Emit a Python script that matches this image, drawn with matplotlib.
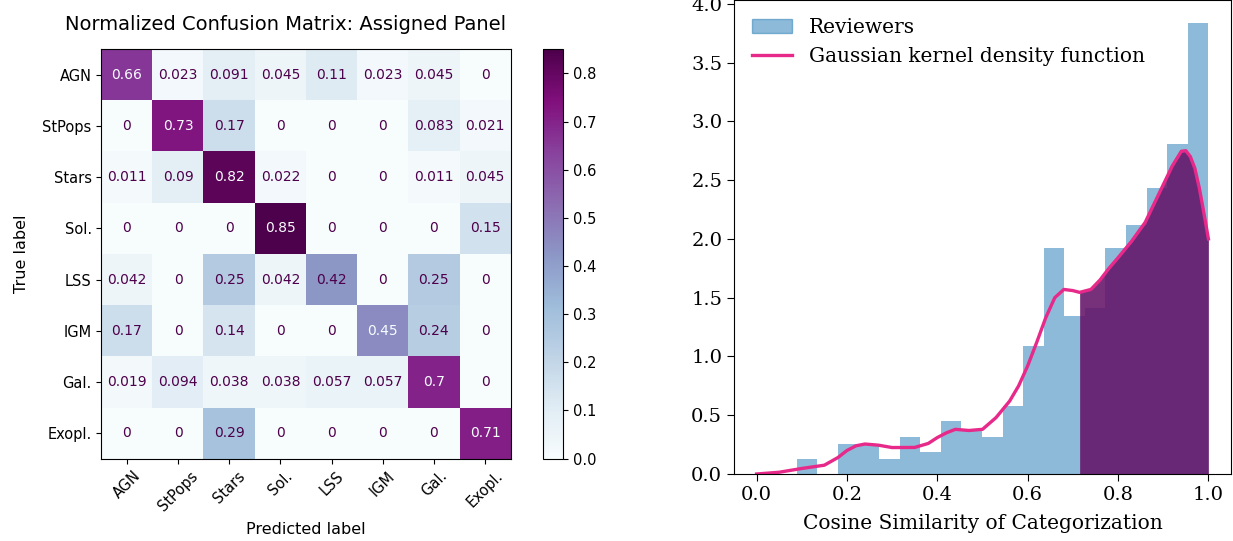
import numpy as np
import matplotlib
matplotlib.use('Agg')
import matplotlib.pyplot as plt
from matplotlib.patches import Patch
from matplotlib.lines import Line2D

# ---- confusion matrix data ----
labels = ['AGN', 'StPops', 'Stars', 'Sol.', 'LSS', 'IGM', 'Gal.', 'Exopl.']
cm = np.array([
    [0.66, 0.023, 0.091, 0.045, 0.11, 0.023, 0.045, 0],
    [0, 0.73, 0.17, 0, 0, 0, 0.083, 0.021],
    [0.011, 0.09, 0.82, 0.022, 0, 0, 0.011, 0.045],
    [0, 0, 0, 0.85, 0, 0, 0, 0.15],
    [0.042, 0, 0.25, 0.042, 0.42, 0, 0.25, 0],
    [0.17, 0, 0.14, 0, 0, 0.45, 0.24, 0],
    [0.019, 0.094, 0.038, 0.038, 0.057, 0.057, 0.7, 0],
    [0, 0, 0.29, 0, 0, 0, 0, 0.71],
])

# ---- histogram data (density) ----
bin_lo = 0.0886
bin_hi = 1.0
n_bins = 20
density = [0.126, 0.0, 0.252, 0.252, 0.126, 0.311, 0.185, 0.449, 0.375, 0.311,
           0.575, 1.086, 1.919, 1.341, 1.41, 1.919, 2.116, 2.43, 2.81, 3.84]

# ---- KDE curve ----
kde_x = [0.00, 0.05, 0.10, 0.15, 0.18, 0.20, 0.22, 0.24, 0.27, 0.30, 0.35, 0.38,
         0.40, 0.42, 0.44, 0.47, 0.50, 0.53, 0.56, 0.58, 0.60, 0.62, 0.64, 0.66,
         0.68, 0.70, 0.715, 0.74, 0.76, 0.78, 0.80, 0.83, 0.86, 0.88, 0.90, 0.92,
         0.94, 0.95, 0.96, 0.97, 0.98, 0.99, 1.00]
kde_y = [0.0, 0.015, 0.047, 0.075, 0.14, 0.20, 0.24, 0.255, 0.245, 0.225, 0.226, 0.26,
         0.31, 0.35, 0.38, 0.37, 0.38, 0.48, 0.62, 0.75, 0.92, 1.12, 1.33, 1.50,
         1.57, 1.56, 1.545, 1.57, 1.65, 1.75, 1.84, 1.98, 2.14, 2.30, 2.46, 2.62,
         2.745, 2.75, 2.70, 2.60, 2.43, 2.22, 2.00]
fill_from = 0.715

W, H = 1233, 541
fig = plt.figure(figsize=(W/100, H/100), dpi=100)

#####################################
# LEFT: confusion matrix            #
#####################################
ax = fig.add_axes([101.4/W, (H-458.6)/H, 409.2/W, 409.2/H])
cmap = plt.get_cmap('BuPu')
im = ax.imshow(cm, cmap=cmap, vmin=0, vmax=cm.max(), interpolation='nearest')
cmin, cmax = cmap(0.0), cmap(1.0)
thresh = (cm.max() + cm.min())/2.0
for i in range(cm.shape[0]):
    for j in range(cm.shape[1]):
        col = cmax if cm[i, j] < thresh else cmin
        ax.text(j, i, format(cm[i, j], '.2g'), ha='center', va='center',
                color=col, fontsize=10)
ax.set_xticks(range(len(labels)))
ax.set_yticks(range(len(labels)))
ax.set_xticklabels(labels, rotation=45, ha='center', fontsize=10.5)
ax.set_yticklabels(labels, fontsize=10.5)
ax.set_xlabel('Predicted label', fontsize=11.5, labelpad=6)
ax.set_ylabel('True label', fontsize=11.5, labelpad=10)
ax.set_title('Normalized Confusion Matrix: Assigned Panel', fontsize=14, pad=14,
             x=0.451)

cax = fig.add_axes([543/W, (H-458.6)/H, 20/W, 409.2/H])
fig.colorbar(im, cax=cax)
cax.tick_params(labelsize=10.5)

#####################################
# RIGHT: histogram + KDE            #
#####################################
serif = 'DejaVu Serif'
ax2 = fig.add_axes([734/W, (H-474)/H, (1231-734)/W, 474/H])
edges = np.linspace(bin_lo, bin_hi, n_bins+1)
ax2.hist(edges[:-1], bins=edges, weights=density, color='#1f77b4', alpha=0.5)
kx = np.array(kde_x)
ky = np.array(kde_y)
m = kx >= fill_from
ax2.fill_between(kx[m], 0, ky[m], color='#641469', alpha=0.88, lw=0)
ax2.plot(kx, ky, color='#e7298a', lw=2.4)
ax2.set_xlim(-0.05, 1.05)
ax2.set_ylim(0, 3.84*1.05)
ax2.set_xlabel('Cosine Similarity of Categorization', fontsize=14.5, family=serif,
               labelpad=7)
ax2.tick_params(length=5)
for t in ax2.get_xticklabels() + ax2.get_yticklabels():
    t.set_family(serif)
    t.set_fontsize(14)
handles = [Patch(color='#1f77b4', alpha=0.5), Line2D([], [], color='#e7298a', lw=2.4)]
ax2.legend(handles, ['Reviewers', 'Gaussian kernel density function'],
           loc='upper left', frameon=False, prop={'family': serif, 'size': 14.5},
           borderaxespad=0.5)

plt.savefig('out.png', dpi=100)
